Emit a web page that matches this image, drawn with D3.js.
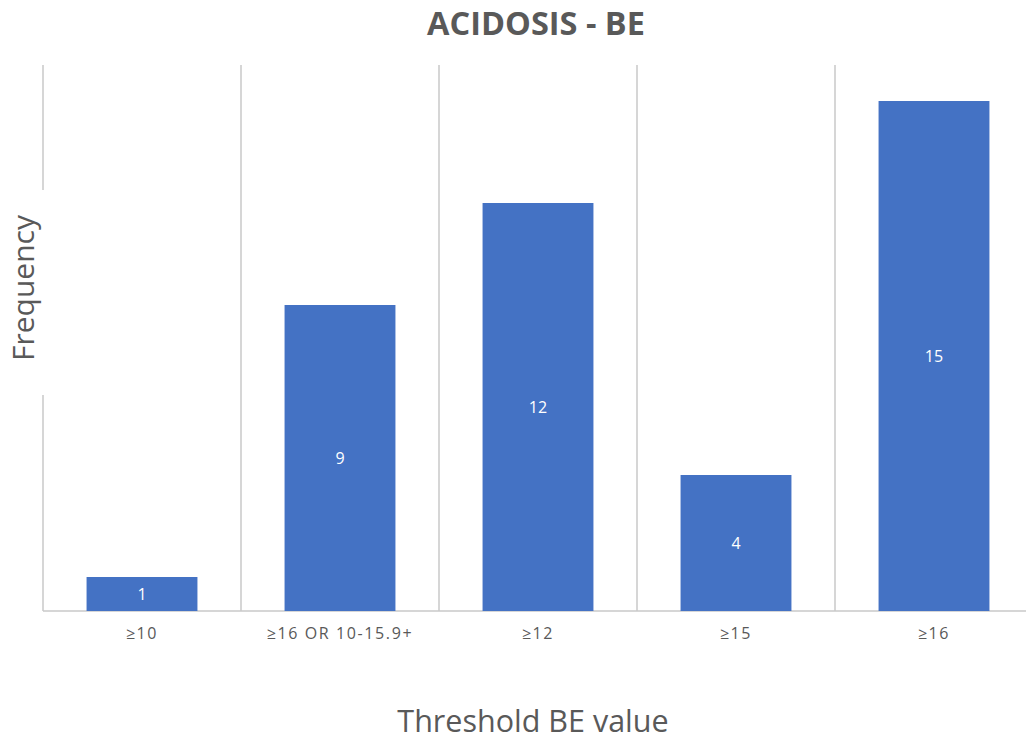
<!DOCTYPE html>
<html lang="en">
<head>
<meta charset="UTF-8"/>
<title>Acidosis - BE</title>
<script src="https://cdn.jsdelivr.net/npm/d3@7"></script>
<style>
  body { margin: 0; background: #fff; }
  text { font-family: "Open Sans", "Noto Sans", sans-serif; }
</style>
</head>
<body>
<script>
var categories = ["\u226510", "\u226516 OR 10-15.9+", "\u226512", "\u226515", "\u226516"];
var frequency = [1, 9, 12, 4, 15];

var w = 1026, h = 747;
var plotLeft = 43, plotRight = 1033, plotTop = 67, plotBottom = 611;

var svg = d3.select("body").append("svg")
  .attr("width", w)
  .attr("height", h);

var x = d3.scaleBand()
  .domain(categories)
  .range([plotLeft, plotRight])
  .paddingInner(0.44)
  .paddingOuter(0.22);

var y = d3.scaleLinear()
  .domain([0, 16])
  .range([plotBottom, plotTop]);

var step = x.step();

// vertical separators between categories
svg.selectAll("line.sep")
  .data(d3.range(categories.length + 1))
  .enter().append("line")
  .attr("class", "sep")
  .attr("x1", function(i) { return plotLeft + i * step; })
  .attr("x2", function(i) { return plotLeft + i * step; })
  .attr("y1", y(16) - 2)
  .attr("y2", plotBottom)
  .attr("stroke", "#c8c8c8")
  .attr("stroke-width", 1.5);

// baseline
svg.append("line")
  .attr("x1", plotLeft).attr("x2", w)
  .attr("y1", plotBottom).attr("y2", plotBottom)
  .attr("stroke", "#c8c8c8")
  .attr("stroke-width", 1.5);

svg.selectAll("rect.bar")
  .data(frequency)
  .enter().append("rect")
  .attr("class", "bar")
  .attr("x", function(d, i) { return x(categories[i]); })
  .attr("y", function(d) { return y(d); })
  .attr("width", x.bandwidth())
  .attr("height", function(d) { return plotBottom - y(d); })
  .attr("fill", "#4472c4");

svg.selectAll("text.val")
  .data(frequency)
  .enter().append("text")
  .attr("class", "val")
  .attr("x", function(d, i) { return x(categories[i]) + x.bandwidth() / 2; })
  .attr("y", function(d) { return (y(d) + plotBottom) / 2; })
  .attr("dy", "0.35em")
  .attr("text-anchor", "middle")
  .attr("font-size", 16)
  .attr("fill", "#fff")
  .text(function(d) { return d; });

svg.selectAll("text.tick")
  .data(categories)
  .enter().append("text")
  .attr("class", "tick")
  .attr("x", function(d) { return x(d) + x.bandwidth() / 2; })
  .attr("y", 639)
  .attr("text-anchor", "middle")
  .attr("font-size", 16)
  .attr("letter-spacing", 1.6)
  .attr("fill", "#595959")
  .text(function(d) { return d; });

// title
svg.append("text")
  .attr("x", 536)
  .attr("y", 35)
  .attr("text-anchor", "middle")
  .attr("font-size", 32.5)
  .attr("font-weight", "bold")
  .attr("fill", "#595959")
  .text("ACIDOSIS - BE");

// y axis title with white box breaking the left line
svg.append("rect")
  .attr("x", 0).attr("y", 190)
  .attr("width", 50).attr("height", 205)
  .attr("fill", "#fff");
svg.append("text")
  .attr("transform", "translate(34,288) rotate(-90)")
  .attr("text-anchor", "middle")
  .attr("font-size", 30)
  .attr("fill", "#595959")
  .text("Frequency");

svg.append("text")
  .attr("x", 533)
  .attr("y", 732)
  .attr("text-anchor", "middle")
  .attr("font-size", 30.5)
  .attr("fill", "#595959")
  .text("Threshold BE value");
</script>
</body>
</html>
